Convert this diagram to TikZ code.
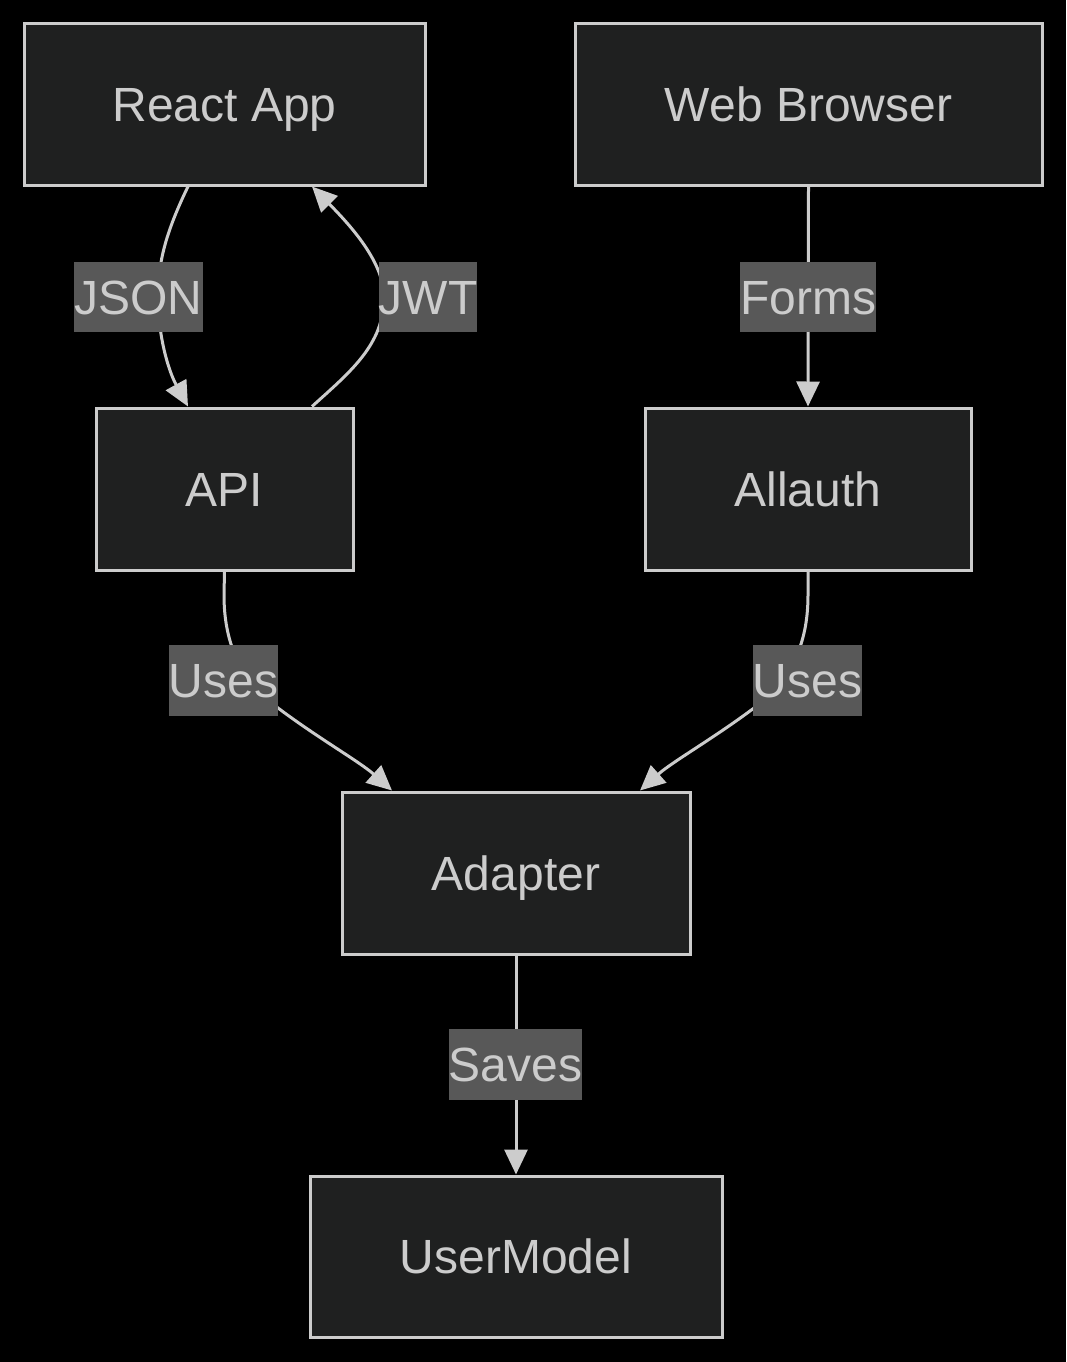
\documentclass[tikz,border=0pt]{standalone}
\usepackage{fontspec}
\setmainfont{Liberation Sans}
\usetikzlibrary{arrows.meta}
\definecolor{boxfill}{HTML}{1F2020}
\definecolor{linec}{HTML}{CCCCCC}
\definecolor{lblfill}{HTML}{585858}
\begin{document}
\begin{tikzpicture}[x=1pt,y=-1pt,
  box/.style={draw=linec, line width=3pt, fill=boxfill, text=linec, inner sep=0pt,
    text height=34.5pt, text depth=0pt, font=\fontsize{48}{56}\selectfont},
  lbl/.style={fill=lblfill, text=linec, inner sep=0pt, text height=34.5pt, text depth=0pt,
    font=\fontsize{48}{56}\selectfont},
  conn/.style={draw=linec, line width=3pt, -{Triangle[length=25pt,width=23pt]}}]
\fill[black] (0,0) rectangle (1066,1362);
\useasboundingbox (0,0) rectangle (1066,1362);
% nodes
\node[box, minimum width=401pt, minimum height=161pt] (react) at (224.5,104.5) {React App};
\node[box, minimum width=467pt, minimum height=161pt] (web) at (808.5,104.5) {Web Browser};
\node[box, minimum width=257pt, minimum height=162pt] (api) at (224.5,489) {API};
\node[box, minimum width=326pt, minimum height=162pt] (allauth) at (808,489) {Allauth};
\node[box, minimum width=348pt, minimum height=162pt] (adapter) at (516,873) {Adapter};
\node[box, minimum width=412pt, minimum height=161pt] (user) at (516,1256.5) {UserModel};
% anchor points
\coordinate (rj) at ([xshift=-36.5pt]react.south);
\coordinate (aj) at ([xshift=-36.5pt]api.north);
\coordinate (aw) at ([xshift=87.5pt]api.north);
\coordinate (rw) at ([xshift=87.5pt]react.south);
\coordinate (au) at (api.south);
\coordinate (adl) at ([xshift=-124pt]adapter.north);
\coordinate (adr) at ([xshift=124pt]adapter.north);
\coordinate (alu) at (allauth.south);
% connectors
\draw[conn] (rj) .. controls (166,232) and (158,262) .. (158,297) .. controls (158,335) and (168,370) .. (aj);
\draw[conn] (aw) .. controls (350,372) and (384,345) .. (384,297) .. controls (384,262) and (350,225) .. (rw);
\draw[conn] (web.south) -- (allauth.north);
\draw[conn] (au) -- (224,595) .. controls (224,640) and (238,678) .. (278,708) .. controls (318,738) and (360,762) .. (adl);
\draw[conn] (alu) -- (808,595) .. controls (808,640) and (794,678) .. (754,708) .. controls (714,738) and (672,762) .. (adr);
\draw[conn] (adapter.south) -- (user.north);
% labels
\node[lbl, minimum width=127pt, minimum height=70pt] (ljson) at (138.5,297) {JSON};
\node[lbl, minimum width=98pt, minimum height=70pt] (ljwt) at (428,297) {JWT};
\node[lbl, minimum width=134pt, minimum height=70pt] (lforms) at (808,297) {Forms};
\node[lbl, minimum width=107pt, minimum height=71pt] (luses1) at (223.5,680.5) {Uses};
\node[lbl, minimum width=107pt, minimum height=71pt] (luses2) at (807.5,680.5) {Uses};
\node[lbl, minimum width=131pt, minimum height=71pt] (lsaves) at (515.5,1064.5) {Saves};
\end{tikzpicture}
\end{document}
